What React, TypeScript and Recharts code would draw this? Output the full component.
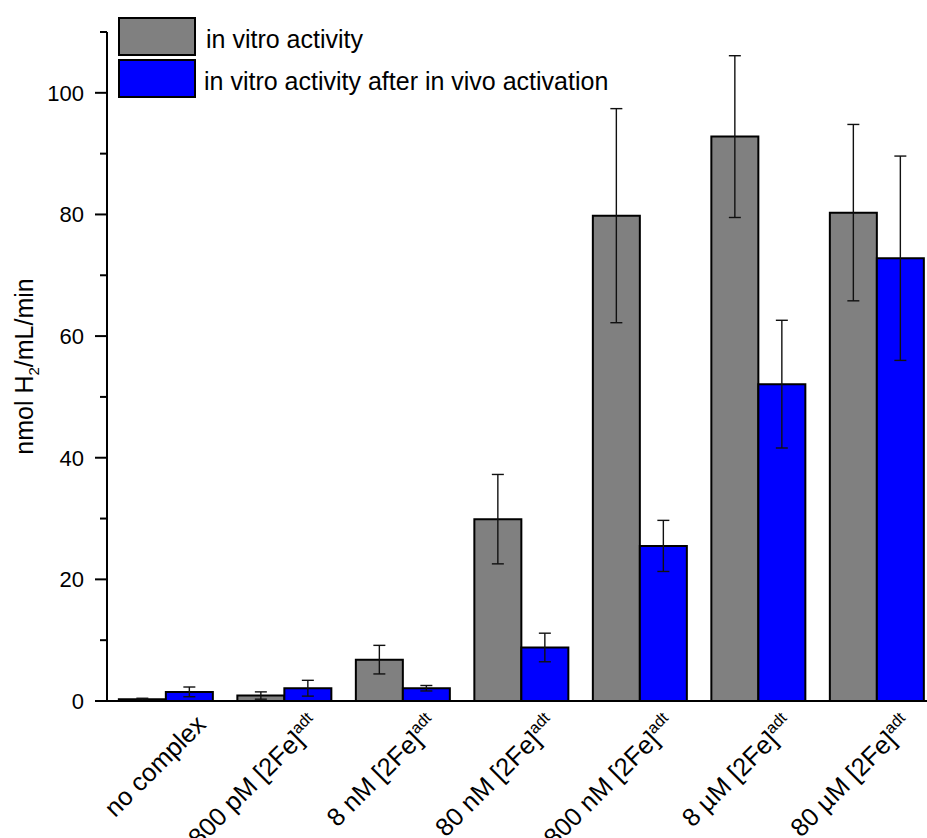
import { BarChart, Bar, XAxis, YAxis, ErrorBar, Legend } from "recharts";

const FONT = "Arial, 'Liberation Sans', sans-serif";

// concentrations of the [2Fe]adt complex
const categories = ["no complex", "800 pM", "8 nM", "80 nM", "800 nM", "8 µM", "80 µM"];
const tickLabels = ["no complex", "800 pM [2Fe]", "8 nM [2Fe]", "80 nM [2Fe]", "800 nM [2Fe]", "8 µM [2Fe]", "80 µM [2Fe]"];
const tickSuperscripts = ["", "adt", "adt", "adt", "adt", "adt", "adt"];

// nmol H2 / mL / min
const inVitro = [0.3, 0.9, 6.8, 29.9, 79.8, 92.8, 80.3];
const inVitroErr = [0.15, 0.6, 2.35, 7.35, 17.6, 13.3, 14.5];
const afterInVivo = [1.5, 2.1, 2.1, 8.8, 25.5, 52.1, 72.8];
const afterInVivoErr = [0.8, 1.3, 0.45, 2.35, 4.2, 10.5, 16.8];

const yTicks = [0, 10, 20, 30, 40, 50, 60, 70, 80, 90, 100, 110];

const data = categories.map((name, i) => ({
  name,
  inVitro: inVitro[i],
  inVitroErr: inVitroErr[i],
  afterInVivo: afterInVivo[i],
  afterInVivoErr: afterInVivoErr[i],
}));

function CategoryTick({ x, y, payload }: any) {
  const i = categories.indexOf(payload.value);
  const sup = tickSuperscripts[i];
  const dx = sup ? 36 : 41;
  return (
    <g transform={`translate(${x + dx},${y + 25}) rotate(-45)`}>
      <text textAnchor="end" fontSize={25.5} fontFamily={FONT} fill="#000">
        {tickLabels[i]}
        {sup && (
          <tspan dy={-10} fontSize={16}>
            {sup}
          </tspan>
        )}
      </text>
    </g>
  );
}

function ValueTick({ x, y, payload }: any) {
  const major = payload.value % 20 === 0;
  return (
    <g>
      <line x1={x - (major ? 12 : 7)} x2={x} y1={y} y2={y} stroke="#000" strokeWidth={2} />
      {major && (
        <text x={x - 23} y={y} dy="0.36em" textAnchor="end" fontSize={22} fontFamily={FONT} fill="#000">
          {payload.value}
        </text>
      )}
    </g>
  );
}

function YTitle({ viewBox }: any) {
  const cy = viewBox.y + viewBox.height / 2;
  return (
    <text
      transform={`translate(33,${cy}) rotate(-90)`}
      textAnchor="middle"
      fontSize={25}
      fontFamily={FONT}
      fill="#000"
    >
      nmol H
      <tspan dy={6} fontSize={15}>
        2
      </tspan>
      <tspan dy={-6}>/mL/min</tspan>
    </text>
  );
}

function LegendBoxes({ payload }: any) {
  return (
    <div style={{ fontFamily: FONT, fontSize: 25, color: "#000" }}>
      {(payload || []).map((entry: any, i: number) => (
        <div key={i} style={{ display: "flex", height: 39, marginBottom: 3 }}>
          <div
            style={{
              width: 74,
              height: 35,
              background: entry.color,
              border: "2px solid #000",
            }}
          />
          <div style={{ marginLeft: i === 0 ? 10 : 8, lineHeight: "39px", paddingTop: 3, whiteSpace: "nowrap" }}>
            {entry.value}
          </div>
        </div>
      ))}
    </div>
  );
}

export default function App() {
  return (
    <div
      style={{
        position: "absolute",
        left: 0,
        top: 0,
        width: 927,
        height: 838,
        overflow: "hidden",
        background: "#fff",
      }}
    >
      <BarChart
        width={950}
        height={838}
        data={data}
        margin={{ top: 32, right: 13.5, bottom: 0, left: 0 }}
        barCategoryGap="10%"
        barGap={0}
      >
        <XAxis
          dataKey="name"
          height={137}
          interval={0}
          tickLine={false}
          tickSize={0}
          tickMargin={0}
          axisLine={{ stroke: "#000", strokeWidth: 2 }}
          tick={<CategoryTick />}
        />
        <YAxis
          width={107}
          domain={[0, 110]}
          ticks={yTicks}
          interval={0}
          tickLine={false}
          tickSize={0}
          tickMargin={0}
          axisLine={{ stroke: "#000", strokeWidth: 2 }}
          tick={<ValueTick />}
          label={<YTitle />}
        />
        <Legend
          layout="vertical"
          align="center"
          verticalAlign="middle"
          wrapperStyle={{ left: 118, top: 17, width: 520, height: 90 }}
          content={<LegendBoxes />}
        />
        <Bar
          dataKey="inVitro"
          name="in vitro activity"
          fill="#808080"
          stroke="#000"
          strokeWidth={2}
          isAnimationActive={false}
        >
          <ErrorBar dataKey="inVitroErr" width={6} stroke="#111" strokeWidth={1.4} isAnimationActive={false} />
        </Bar>
        <Bar
          dataKey="afterInVivo"
          name="in vitro activity after in vivo activation"
          fill="#0000ff"
          stroke="#000"
          strokeWidth={2}
          isAnimationActive={false}
        >
          <ErrorBar dataKey="afterInVivoErr" width={6} stroke="#111" strokeWidth={1.4} isAnimationActive={false} />
        </Bar>
      </BarChart>
    </div>
  );
}
